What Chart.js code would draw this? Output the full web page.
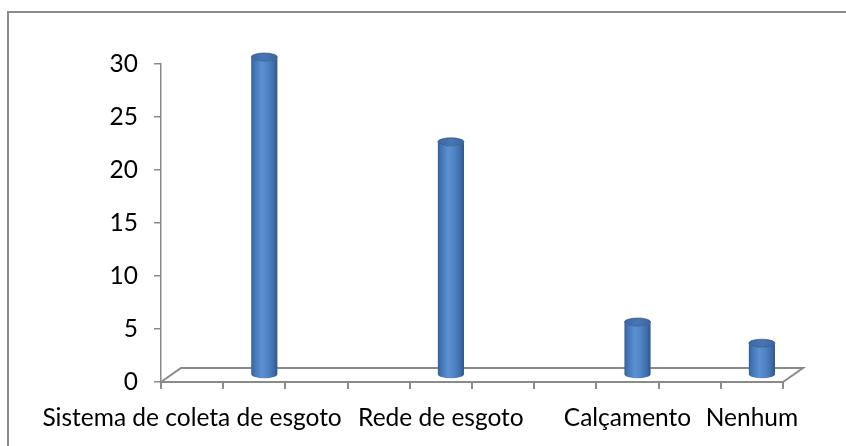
<!DOCTYPE html>
<html>
<head>
<meta charset="utf-8">
<script src="https://cdn.jsdelivr.net/npm/chart.js@4"></script>
<style>
html,body{margin:0;padding:0;background:#fff;}
#wrap{width:846px;height:446px;position:relative;}
</style>
</head>
<body>
<div id="wrap"><canvas id="c" width="846" height="446"></canvas></div>
<script>
// Data
const categories = ['Sistema de coleta de esgoto', '', '', '', 'Rede de esgoto', '', '', 'Calçamento', '', 'Nenhum'];
const values = [null, 30, null, null, 22, null, null, 5, null, 3];
const yTicks = [0, 5, 10, 15, 20, 25, 30];

const GRAY = '#8a8a8a';
const DEPTH_X = 20, DEPTH_Y = -14;

const floorPlugin = {
  id: 'floor',
  beforeDatasetsDraw(chart) {
    const ctx = chart.ctx, a = chart.chartArea;
    const y0 = chart.scales.y.getPixelForValue(0);
    ctx.save();
    ctx.strokeStyle = GRAY;
    ctx.lineWidth = 2;
    ctx.beginPath();
    ctx.moveTo(a.left, y0);
    ctx.lineTo(a.left + DEPTH_X, y0 + DEPTH_Y);
    ctx.lineTo(a.right + DEPTH_X, y0 + DEPTH_Y);
    ctx.lineTo(a.right, y0);
    ctx.stroke();
    ctx.restore();
  }
};

const cylPlugin = {
  id: 'cyl',
  afterDatasetsDraw(chart) {
    const ctx = chart.ctx;
    const meta = chart.getDatasetMeta(0);
    const dx = DEPTH_X / 2, dy = DEPTH_Y / 2;
    meta.data.forEach((el, i) => {
      if (values[i] === null || values[i] === undefined) return;
      const p = el.getProps(['x', 'y', 'base', 'width'], true);
      const cx = p.x + dx;
      const top = p.y + dy;
      const bottom = p.base + dy;
      const rx = p.width / 2, ry = 4;
      const left = cx - rx, right = cx + rx;
      ctx.save();
      const g = ctx.createLinearGradient(left, 0, right, 0);
      g.addColorStop(0, '#345f96');
      g.addColorStop(0.12, '#4275b5');
      g.addColorStop(0.4, '#5b90d2');
      g.addColorStop(0.65, '#4f82c3');
      g.addColorStop(0.9, '#3a68a4');
      g.addColorStop(1, '#2c5284');
      ctx.fillStyle = g;
      ctx.beginPath();
      ctx.moveTo(left, top);
      ctx.lineTo(left, bottom);
      ctx.ellipse(cx, bottom, rx, ry, 0, Math.PI, 0, true);
      ctx.lineTo(right, top);
      ctx.ellipse(cx, top, rx, ry, 0, 0, Math.PI, false);
      ctx.closePath();
      ctx.fill();
      const tg = ctx.createLinearGradient(left, 0, right, 0);
      tg.addColorStop(0, '#3b68a3');
      tg.addColorStop(0.5, '#4676b4');
      tg.addColorStop(1, '#3a66a0');
      ctx.fillStyle = tg;
      ctx.beginPath();
      ctx.ellipse(cx, top, rx, ry, 0, 0, Math.PI * 2);
      ctx.fill();
      ctx.strokeStyle = 'rgba(40,75,125,0.6)';
      ctx.lineWidth = 1;
      ctx.stroke();
      ctx.restore();
    });
  }
};

const framePlugin = {
  id: 'frame',
  afterDraw(chart) {
    const ctx = chart.ctx;
    ctx.save();
    ctx.strokeStyle = GRAY;
    ctx.lineWidth = 2;
    ctx.beginPath();
    ctx.moveTo(8, 446);
    ctx.lineTo(8, 12);
    ctx.lineTo(846, 12);
    ctx.stroke();
    ctx.restore();
  }
};

new Chart(document.getElementById('c'), {
  type: 'bar',
  data: {
    labels: categories,
    datasets: [{
      data: values,
      backgroundColor: 'rgba(0,0,0,0)',
      borderWidth: 0,
      barPercentage: 0.42,
      categoryPercentage: 1.0
    }]
  },
  options: {
    responsive: false,
    animation: false,
    devicePixelRatio: 1,
    layout: { padding: { left: 0, top: 64, right: 63, bottom: 0 } },
    plugins: { legend: { display: false }, tooltip: { enabled: false } },
    scales: {
      x: {
        offset: true,
        grid: { display: true, drawOnChartArea: false, drawTicks: true, tickLength: 7, color: GRAY, lineWidth: 2, offset: true },
        border: { display: true, color: GRAY, width: 2 },
        ticks: {
          autoSkip: false, maxRotation: 0, minRotation: 0,
          color: '#000', padding: 14,
          font: { family: 'Lato', size: 24.5 }
        },
        afterFit(s) { s.height = 64; }
      },
      y: {
        min: 0, max: 30,
        afterBuildTicks(s) { s.ticks = yTicks.map(v => ({ value: v })); },
        grid: { display: true, drawOnChartArea: false, drawTicks: true, tickLength: 7, color: GRAY, lineWidth: 1.5 },
        border: { display: true, color: GRAY, width: 1.5 },
        ticks: {
          color: '#000', padding: 16,
          font: { family: 'Lato', size: 24.5 }
        },
        afterFit(s) { s.width = 161; }
      }
    }
  },
  plugins: [floorPlugin, cylPlugin, framePlugin]
});
</script>
</body>
</html>
